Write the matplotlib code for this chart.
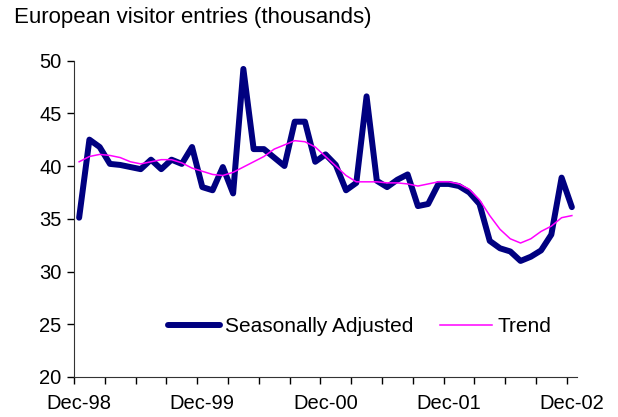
import matplotlib.pyplot as plt
import numpy as np

plt.rcParams['font.family'] = ['Liberation Sans', 'DejaVu Sans']

# monthly values, Dec-98 .. Dec-02
seas_adj = [35.1, 42.5, 41.8, 40.2, 40.1, 39.9, 39.7, 40.6, 39.7, 40.6,
            40.2, 41.8, 38.0, 37.7, 39.9, 37.4, 49.2, 41.6, 41.6, 40.8,
            40.0, 44.2, 44.2, 40.4, 41.1, 40.1, 37.7, 38.4, 46.6, 38.6,
            38.0, 38.7, 39.2, 36.2, 36.4, 38.3, 38.3, 38.1, 37.5, 36.4,
            32.9, 32.2, 31.9, 31.0, 31.4, 32.0, 33.5, 38.9, 36.1]
trend = [40.4, 40.9, 41.1, 41.0, 40.8, 40.4, 40.2, 40.4, 40.6, 40.6,
         40.3, 39.8, 39.5, 39.2, 39.1, 39.4, 39.9, 40.4, 40.9, 41.6,
         42.0, 42.4, 42.3, 41.8, 40.9, 40.0, 39.1, 38.5, 38.5, 38.5,
         38.4, 38.4, 38.3, 38.1, 38.3, 38.5, 38.5, 38.3, 37.8, 36.8,
         35.3, 34.0, 33.1, 32.7, 33.1, 33.8, 34.3, 35.1, 35.3]
tick_labels = ['Dec-98', 'Dec-99', 'Dec-00', 'Dec-01', 'Dec-02']

x = np.arange(len(seas_adj))

fig = plt.figure(figsize=(6.18, 4.17), dpi=100)
ax = fig.add_axes([74 / 618, 1 - 377 / 417, 503 / 618, 316.5 / 417])

ax.plot(x, seas_adj, color='#000080', lw=4.3, solid_joinstyle='round',
        solid_capstyle='round', label='Seasonally Adjusted')
ax.plot(x, trend, color='#FF00FF', lw=1.1, label='Trend')

ax.set_xlim(-0.5, 48.5)
ax.set_ylim(20, 50)
ax.set_yticks(range(20, 51, 5))

# ticks sit between months, labels under Dec months
ax.set_xticks(np.arange(-0.5, 48, 3))
ax.set_xticklabels([])
ax.set_xticks(np.arange(0, 49, 12), minor=True)
ax.set_xticklabels(tick_labels, minor=True)
ax.tick_params(axis='x', which='minor', length=0, pad=12, labelsize=14.5)
ax.tick_params(axis='x', which='major', length=5, width=1, direction='out')
ax.tick_params(axis='y', length=5, width=1, labelsize=14.5, pad=4)

for s in ['top', 'right']:
    ax.spines[s].set_visible(False)
for s in ['left', 'bottom']:
    ax.spines[s].set_color('#333333')

fig.text(14 / 618, 1 - 7 / 417, 'European visitor entries (thousands)',
         fontsize=16, va='top', ha='left')

ax.legend(loc='center', bbox_to_anchor=(359.5 / 618, 1 - 327 / 417),
          bbox_transform=fig.transFigure, ncol=2, frameon=False,
          fontsize=15, handlelength=2.5, handletextpad=0.25,
          columnspacing=1.25, borderpad=0)

fig.savefig('out.png', dpi=100)
